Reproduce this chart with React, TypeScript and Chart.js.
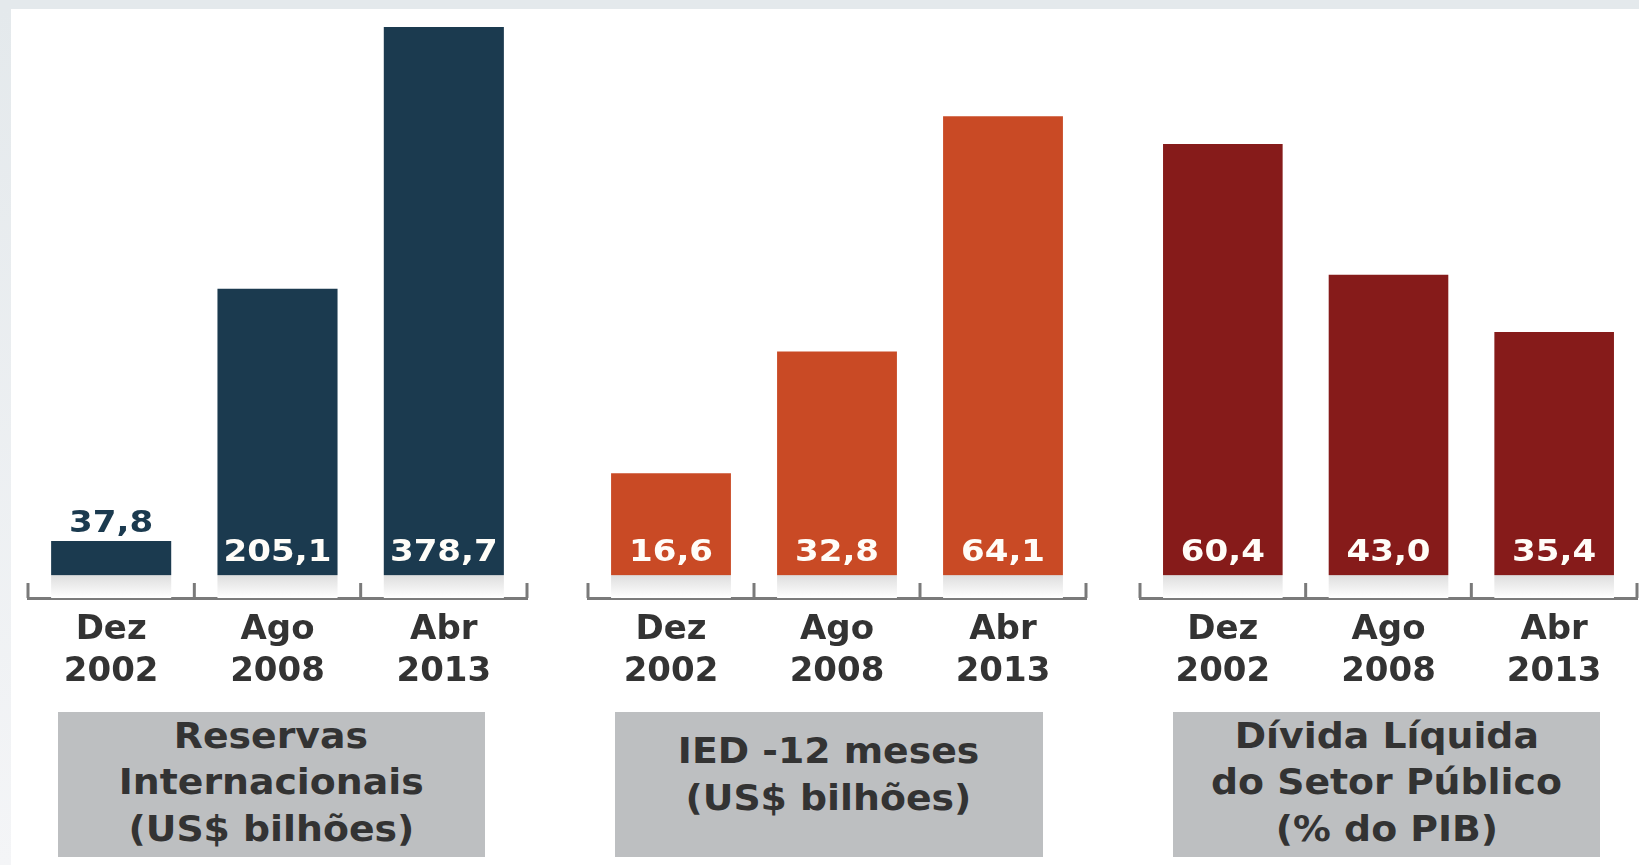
import React, { useEffect, useRef } from "react";
import { Chart, registerables } from "chart.js";

Chart.register(...registerables);

// ---- data ----
const categories = [["Dez", "2002"], ["Ago", "2008"], ["Abr", "2013"]];
const reservas = [37.8, 205.1, 378.7];
const ied = [16.6, 32.8, 64.1];
const divida = [60.4, 43.0, 35.4];
const titleReservas = ["Reservas", "Internacionais", "(US$ bilhões)"];
const titleIed = ["IED -12 meses", "(US$ bilhões)"];
const titleDivida = ["Dívida Líquida", "do Setor Público", "(% do PIB)"];
const yMaxReservas = 383.3;
const yMaxPercent = 76.9;

// ---- layout constants ----
const CANVAS_H = 710;
const BASE_Y = 598;
const PAD = 10;
const FONT = "'DejaVu Sans', 'Open Sans', sans-serif";

const fmt = (v: number) => v.toFixed(1).replace(".", ",");

type PanelProps = {
  values: number[];
  color: string;
  yMax: number;
  left: number;
  right: number;
};

function BarPanel({ values, color, yMax, left, right }: PanelProps) {
  const ref = useRef<HTMLCanvasElement>(null);
  const width = right - left + PAD * 2;

  useEffect(() => {
    const canvas = ref.current!;
    const bracketPlugin = {
      id: "bracket",
      afterDatasetsDraw(chart: any) {
        const x = chart.scales.x;
        const y0 = chart.chartArea.bottom;
        const ctx = chart.ctx;
        ctx.save();
        ctx.strokeStyle = "#7a7a7a";
        ctx.lineWidth = 3;
        for (let i = 0; i <= values.length; i++) {
          const px = x.getPixelForValue(i - 0.5);
          ctx.beginPath();
          ctx.moveTo(px, y0 - 15);
          ctx.lineTo(px, y0);
          ctx.stroke();
        }
        ctx.restore();
      },
    };
    const valuePlugin = {
      id: "values",
      afterDatasetsDraw(chart: any) {
        const meta = chart.getDatasetMeta(0);
        const ctx = chart.ctx;
        ctx.save();
        ctx.font = `bold 31px ${FONT}`;
        ctx.textAlign = "center";
        ctx.textBaseline = "alphabetic";
        meta.data.forEach((bar: any, i: number) => {
          const text = fmt(values[i]);
          const h = bar.base - bar.y;
          let baseline: number;
          if (h < 75) {
            ctx.fillStyle = color;
            baseline = bar.y - 9;
          } else {
            ctx.fillStyle = "#fffdf8";
            baseline = bar.base - 37.5;
          }
          ctx.save();
          ctx.translate(bar.x, baseline);
          ctx.scale(1.1, 1);
          ctx.fillText(text, 0, 0);
          ctx.restore();
        });
        ctx.restore();
      },
    };

    const chart = new Chart(canvas, {
      type: "bar",
      data: {
        labels: categories,
        datasets: [
          {
            data: values,
            backgroundColor: (c: any) => {
              const chartRef = c.chart;
              const a = chartRef.chartArea;
              if (!a) return color;
              const g = chartRef.ctx.createLinearGradient(0, a.top, 0, a.bottom);
              const h = a.bottom - a.top;
              const cut = (h - 23) / h;
              g.addColorStop(0, color);
              g.addColorStop(cut, color);
              g.addColorStop(Math.min(1, cut + 0.001), "#dedede");
              g.addColorStop(1, "#ffffff");
              return g;
            },
            borderWidth: 0,
            barPercentage: 0.722,
            categoryPercentage: 1,
          },
        ],
      },
      options: {
        animation: false,
        responsive: false,
        maintainAspectRatio: false,
        layout: { padding: { left: PAD, right: PAD, top: 20, bottom: 0 } },
        plugins: {
          legend: { display: false },
          tooltip: { enabled: false },
        },
        scales: {
          x: {
            grid: { display: false },
            border: { display: true, color: "#7a7a7a", width: 3 },
            ticks: {
              color: "#333333",
              font: { family: FONT, weight: "bold", size: 34, lineHeight: 1.235 },
              padding: 3,
              maxRotation: 0,
              autoSkip: false,
            },
            afterFit: (s: any) => {
              s.height = CANVAS_H - BASE_Y;
            },
          },
          y: { display: false, min: 0, max: yMax },
        },
      } as any,
      plugins: [bracketPlugin, valuePlugin],
    });
    return () => chart.destroy();
  }, []);

  return (
    <canvas
      ref={ref}
      width={width}
      height={CANVAS_H}
      style={{ position: "absolute", left: left - PAD, top: 0, width, height: CANVAS_H }}
    />
  );
}

function TitleBox({ lines, left, right, shift }: { lines: string[]; left: number; right: number; shift: number }) {
  return (
    <div
      style={{
        position: "absolute",
        left,
        top: 712,
        width: right - left,
        height: 145,
        background: "#bdbfc1",
        display: "flex",
        flexDirection: "column",
        justifyContent: "center",
        alignItems: "center",
        paddingBottom: shift,
        boxSizing: "border-box",
      }}
    >
      {lines.map((l) => (
        <div
          key={l}
          style={{
            fontFamily: FONT,
            fontWeight: "bold",
            fontSize: 35,
            lineHeight: "46.5px",
            color: "#333333",
            whiteSpace: "nowrap",
            transform: "scaleX(1.08)",
          }}
        >
          {l}
        </div>
      ))}
    </div>
  );
}

export default function App() {
  return (
    <div
      style={{
        position: "fixed",
        left: 0,
        top: 0,
        width: 1639,
        height: 865,
        overflow: "hidden",
        background: "#e4e9ec",
      }}
    >
      <div
        style={{
          position: "absolute",
          left: 0,
          top: 9,
          width: 11,
          bottom: 0,
          background: "linear-gradient(to bottom, #e4e9ec, #f4f5f7)",
        }}
      />
      <div style={{ position: "absolute", left: 11, top: 9, right: 0, bottom: 0, background: "#ffffff" }} />
      <BarPanel values={reservas} color="#1b3a4f" yMax={yMaxReservas} left={28} right={527} />
      <BarPanel values={ied} color="#c94a25" yMax={yMaxPercent} left={587.5} right={1086} />
      <BarPanel values={divida} color="#861b1a" yMax={yMaxPercent} left={1139.5} right={1637} />
      <TitleBox lines={titleReservas} left={57.5} right={485} shift={4} />
      <TitleBox lines={titleIed} left={614.5} right={1043} shift={20} />
      <TitleBox lines={titleDivida} left={1173} right={1600} shift={4} />
    </div>
  );
}
